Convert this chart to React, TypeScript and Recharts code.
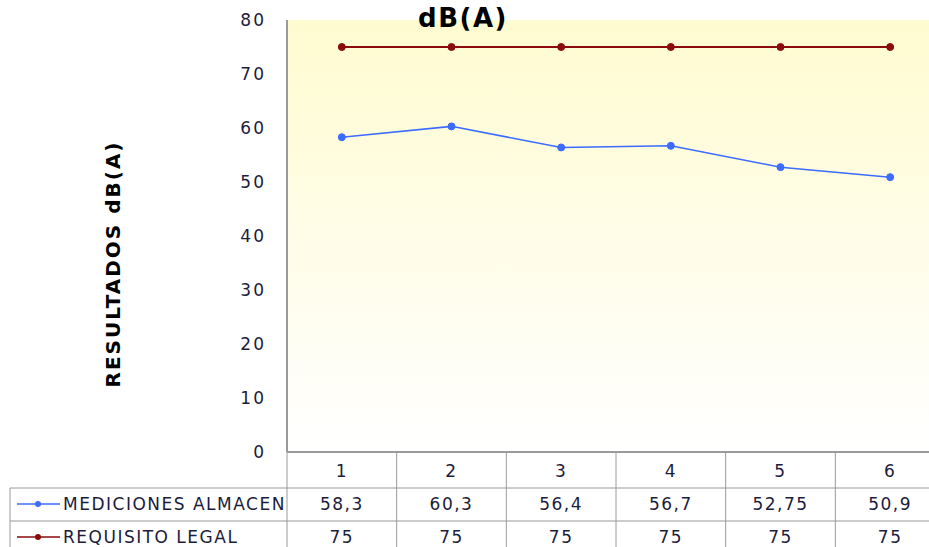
import { LineChart, Line, XAxis, YAxis, CartesianGrid } from 'recharts';

const categories = ['1', '2', '3', '4', '5', '6'];
const mediciones = [58.3, 60.3, 56.4, 56.7, 52.75, 50.9];
const requisito = [75, 75, 75, 75, 75, 75];
const yTicks = [0, 10, 20, 30, 40, 50, 60, 70, 80];

const series = [
  { key: 'mediciones', name: 'MEDICIONES ALMACEN', color: '#3b6bff', values: mediciones },
  { key: 'requisito', name: 'REQUISITO LEGAL', color: '#8b0a0a', values: requisito },
];

const data = categories.map((label, i) => ({
  label,
  mediciones: mediciones[i],
  requisito: requisito[i],
}));

// sizes of the chart + its table under the plot
const W = 950;
const H = 547;
const AXIS_W = 287;
const RIGHT = 5;
const TOP = 20;
const TABLE_H = 95;
const PLOT_W = W - AXIS_W - RIGHT;
const COL_W = PLOT_W / categories.length;
const PLOT_BOTTOM = H - TABLE_H;
const ROW1 = PLOT_BOTTOM + 36;
const ROW2 = ROW1 + 33;
const GRID = '#9a9a9a';
const TXT = '#1c1c3c';
const FONT = '"DejaVu Sans", Verdana, sans-serif';
const TXT_SIZE = 17;
const SPACING = 1.5;

const fmt = (v: number) => String(v).replace('.', ',');

function TableTick(props: any) {
  const { x, payload } = props;
  const i = payload.index;
  const left = x - COL_W / 2;
  return (
    <g>
      <line x1={left + COL_W} y1={PLOT_BOTTOM} x2={left + COL_W} y2={H + 10} stroke={GRID} />
      <text x={x} y={PLOT_BOTTOM + 25} textAnchor="middle" fontSize={TXT_SIZE} letterSpacing={SPACING} fill={TXT} fontFamily={FONT}>
        {payload.value}
      </text>
      {series.map((s, r) => (
        <text key={s.key} x={x} y={ROW1 + 22 + r * 33} textAnchor="middle" fontSize={TXT_SIZE} letterSpacing={SPACING} fill={TXT} fontFamily={FONT}>
          {fmt(s.values[i])}
        </text>
      ))}
    </g>
  );
}

function TableLegend() {
  return (
    <g>
      <line x1={10} y1={ROW1} x2={W} y2={ROW1} stroke={GRID} />
      <line x1={10} y1={ROW2} x2={W} y2={ROW2} stroke={GRID} />
      <line x1={10} y1={ROW1} x2={10} y2={H + 10} stroke={GRID} />
      <line x1={AXIS_W} y1={PLOT_BOTTOM} x2={AXIS_W} y2={H + 10} stroke={GRID} />
      {series.map((s, r) => {
        const cy = ROW1 + 16 + r * 33;
        return (
          <g key={s.key}>
            <line x1={17} y1={cy} x2={60} y2={cy} stroke={s.color} strokeWidth={1.5} />
            <circle cx={38} cy={cy} r={3} fill={s.color} />
            <text x={63} y={cy + 6} fontSize={TXT_SIZE} letterSpacing={SPACING} fill={TXT} fontFamily={FONT}>
              {s.name}
            </text>
          </g>
        );
      })}
    </g>
  );
}

export default function App() {
  return (
    <div style={{ position: 'fixed', left: 0, top: 0, width: 929, height: 547, overflow: 'hidden', background: '#fff' }}>
      <LineChart width={W} height={H} data={data} margin={{ top: TOP, right: RIGHT, left: 0, bottom: 0 }}>
        <defs>
          <linearGradient id="bgFade" x1="0" y1="0" x2="0" y2="1">
            <stop offset="0%" stopColor="#fffbd0" />
            <stop offset="100%" stopColor="#ffffff" />
          </linearGradient>
        </defs>
        <CartesianGrid horizontal={false} vertical={false} fill="url(#bgFade)" />
        <XAxis
          dataKey="label"
          height={TABLE_H}
          interval={0}
          padding={{ left: COL_W / 2, right: COL_W / 2 }}
          axisLine={{ stroke: GRID, strokeWidth: 2 }}
          tickLine={false}
          tick={<TableTick />}
          label={{ content: () => <TableLegend /> }}
        />
        <YAxis
          domain={[0, 80]}
          ticks={yTicks}
          width={AXIS_W}
          axisLine={{ stroke: GRID, strokeWidth: 2 }}
          tickLine={false}
          tickSize={0}
          tickMargin={21}
          tick={{ fill: TXT, fontSize: TXT_SIZE, fontFamily: FONT, letterSpacing: 2 }}
          label={{
            content: () => (
              <text
                x={114}
                y={264}
                transform="rotate(-90 114 264)"
                textAnchor="middle"
                dominantBaseline="middle"
                fontSize={20}
                letterSpacing={2}
                fontWeight="bold"
                fill="#000"
                fontFamily={FONT}
              >
                RESULTADOS dB(A)
              </text>
            ),
          }}
        />
        <Line
          dataKey="mediciones"
          name="MEDICIONES ALMACEN"
          stroke="#3b6bff"
          strokeWidth={1.5}
          dot={{ r: 3.5, fill: '#3b6bff', stroke: '#3b6bff', strokeWidth: 1 }}
          isAnimationActive={false}
        />
        <Line
          dataKey="requisito"
          name="REQUISITO LEGAL"
          stroke="#8b0a0a"
          strokeWidth={2}
          dot={{ r: 3.5, fill: '#8b0a0a', stroke: '#8b0a0a', strokeWidth: 1 }}
          isAnimationActive={false}
        />
      </LineChart>
      <div
        style={{
          position: 'absolute',
          left: 463,
          top: 2,
          transform: 'translateX(-50%)',
          fontFamily: FONT,
          fontWeight: 'bold',
          fontSize: 26,
          letterSpacing: 1.5,
          color: '#000',
          lineHeight: '32px',
          whiteSpace: 'nowrap',
        }}
      >
        dB(A)
      </div>
    </div>
  );
}
